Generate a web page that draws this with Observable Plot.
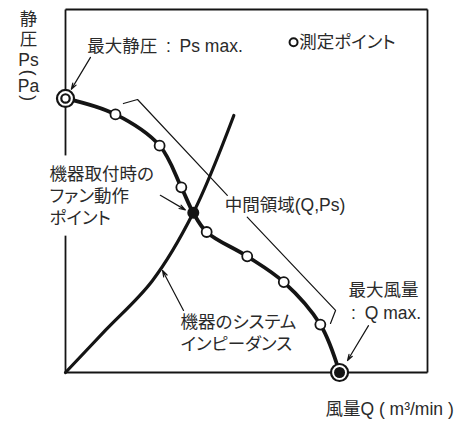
<!DOCTYPE html>
<html>
<head>
<meta charset="utf-8">
<script src="https://cdn.jsdelivr.net/npm/d3@7"></script>
<script src="https://cdn.jsdelivr.net/npm/@observablehq/plot@0.6"></script>
<style>
  html, body { margin: 0; padding: 0; background: #fff; }
  #chart svg { display: block; }
  #chart svg text { font-feature-settings: "palt"; }
</style>
</head>
<body>
<div id="chart"></div>
<script>
// Fan performance curve (Q: airflow, Ps: static pressure), relative units 0..100
const fanQ  = [0, 13.8, 26.0, 32.0, 35.3, 39.0, 50.2, 60.3, 70.4, 75.7];
const fanPs = [75.5, 71.1, 62.5, 51.0, 44.0, 38.7, 32.0, 24.9, 13.2, 0];
const fanKind = ["psmax", "meas", "meas", "meas", "op", "meas", "meas", "meas", "meas", "qmax"];

// System impedance curve
const impQ  = [0, 11.0, 24.0, 35.3, 46.5];
const impPs = [0, 11.6, 25.3, 44.0, 70.8];

// Bracket marking the intermediate region (two pieces, broken by its label)
const bracketQ   = [16.0, 19.9, 44.7, 50.2, 74.6, 73.2];
const bracketPs  = [74.1, 75.2, 48.8, 42.8, 17.1, 13.5];
const bracketSeg = [0, 0, 0, 1, 1, 1];

// Annotation arrows
const arrowQ1  = [6.9, 26.2, 32.6, 83.7];
const arrowPs1 = [86.8, 48.8, 17.1, 12.9];
const arrowQ2  = [1.6, 33.1, 26.8, 77.9];
const arrowPs2 = [78.0, 44.8, 28.1, 3.3];

// Frame edges (left edge broken by the label)
const frameQ1  = [0, 100, 0, 0, 0];
const framePs1 = [100, 100, 0, 100, 37.7];
const frameQ2  = [100, 100, 100, 0, 0];
const framePs2 = [100, 0, 0, 59.8, 0];

// Text labels
const labels   = ["最大静圧\u2002:\u2002Ps max.", "測定ポイント", "機器取付時の", "ファン動作", "ポイント",
                  "中間領域(Q,Ps)", "最大風量", ":\u2002Q max.", "機器のシステム", "インピーダンス",
                  "風量Q ( m³/min )"];
const labelQ   = [6.0, 64.6, -4.4, -4.4, -4.4, 44.0, 78.2, 78.9, 31.8, 31.8, 71.8];
const labelPs  = [89.8, 91.0, 54.5, 48.5, 42.4, 46.0, 22.6, 16.3, 13.8, 7.7, -10.2];

// Vertical y-axis title
const yTitle   = ["静", "圧", "Ps", "(", "Pa", ")"];
const yTitlePs = [97.2, 91.7, 86.0, 82.6, 78.8, 75.6];
const yTitleRot = [0, 0, 0, 90, 0, 90];
const yTitleQ  = -10.2;

// Legend marker
const legendQ = 63.0, legendPs = 91.0;

const fan = fanQ.map((q, i) => ({q, ps: fanPs[i], kind: fanKind[i]}));
const imp = impQ.map((q, i) => ({q, ps: impPs[i]}));
const bracket = bracketQ.map((q, i) => ({q, ps: bracketPs[i], seg: bracketSeg[i]}));
const arrows = arrowQ1.map((q, i) => ({q1: q, p1: arrowPs1[i], q2: arrowQ2[i], p2: arrowPs2[i]}));
const frame = frameQ1.map((q, i) => ({q1: q, p1: framePs1[i], q2: frameQ2[i], p2: framePs2[i]}));
const texts = labels.map((t, i) => ({t, q: labelQ[i], ps: labelPs[i]}));
const ytexts = yTitle.map((t, i) => ({t, q: yTitleQ, ps: yTitlePs[i], rot: yTitleRot[i]}));

const ink = "#141414";
const textInk = "#2a2a2a";
const font = "'Liberation Sans', 'Noto Sans CJK JP', sans-serif";

const chart = Plot.plot({
  width: 471,
  height: 421,
  marginLeft: 65,
  marginRight: 44,
  marginTop: 9,
  marginBottom: 49,
  x: {domain: [0, 100], axis: null},
  y: {domain: [0, 100], axis: null},
  style: {fontFamily: font, background: "#fff"},
  marks: [
    Plot.link(frame, {x1: "q1", y1: "p1", x2: "q2", y2: "p2", stroke: ink, strokeWidth: 1.8}),
    Plot.line(bracket, {x: "q", y: "ps", z: "seg", stroke: ink, strokeWidth: 1.2}),
    Plot.line(imp, {x: "q", y: "ps", curve: "catmull-rom", stroke: ink, strokeWidth: 3.2}),
    Plot.line(fan, {x: "q", y: "ps", curve: "catmull-rom", stroke: ink, strokeWidth: 3.8}),
    Plot.arrow(arrows, {x1: "q1", y1: "p1", x2: "q2", y2: "p2", stroke: ink, strokeWidth: 1.2, headLength: 8, headAngle: 35}),
    Plot.dot(fan.filter(d => d.kind === "meas"), {x: "q", y: "ps", r: 5, fill: "#fff", stroke: ink, strokeWidth: 1.8}),
    Plot.dot(fan.filter(d => d.kind === "op"), {x: "q", y: "ps", r: 6, fill: ink}),
    Plot.dot(fan.filter(d => d.kind === "psmax" || d.kind === "qmax"), {x: "q", y: "ps", r: 8.5, fill: "#fff", stroke: ink, strokeWidth: 2.2}),
    Plot.dot(fan.filter(d => d.kind === "psmax"), {x: "q", y: "ps", r: 4.2, fill: "#fff", stroke: ink, strokeWidth: 2.2}),
    Plot.dot(fan.filter(d => d.kind === "qmax"), {x: "q", y: "ps", r: 5.5, fill: ink}),
    Plot.dot([{q: legendQ, ps: legendPs}], {x: "q", y: "ps", r: 4, fill: "#fff", stroke: ink, strokeWidth: 2}),
    Plot.text(texts, {x: "q", y: "ps", text: "t", textAnchor: "start", fontSize: 17.5, fill: textInk}),
    Plot.text(ytexts, {x: "q", y: "ps", text: "t", rotate: "rot", textAnchor: "middle", fontSize: 17.5, fill: textInk})
  ]
});
document.getElementById("chart").append(chart);
</script>
</body>
</html>
